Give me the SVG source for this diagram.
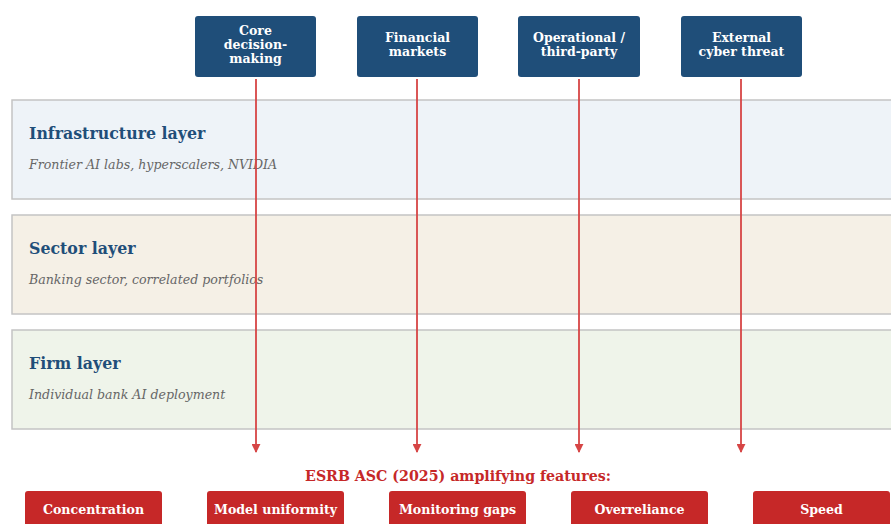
<svg xmlns="http://www.w3.org/2000/svg" width="891" height="524" viewBox="0 0 891 524">
<style>
.layer{stroke:#c4c4c4;stroke-width:1.5}
.lt{font-family:"DejaVu Serif",serif;font-weight:bold;font-size:15.8px;fill:#1f4e79}
.ls{font-family:"DejaVu Serif",serif;font-style:italic;font-size:12.6px;fill:#666}
.top{fill:#1f4e79}
.tt{font-family:"DejaVu Serif",serif;font-weight:bold;font-size:12.5px;fill:#fff;text-anchor:middle}
.feat{fill:#c62828}
.ft{font-family:"DejaVu Serif",serif;font-weight:bold;font-size:12.6px;fill:#fff;text-anchor:middle}
.conn{stroke:#d64545;stroke-width:1.8;fill:none;marker-end:url(#ah)}
</style>
<defs>
<marker id="ah" viewBox="0 0 10 10" refX="9" refY="5" markerWidth="5" markerHeight="5" orient="auto" markerUnits="strokeWidth">
<path d="M0,0 L10,5 L0,10 z" fill="#d64545"/>
</marker>
</defs>
<rect width="891" height="524" fill="#fff"/>
<g id="infrastructure">
<rect class="layer" x="12" y="100" width="890" height="99" fill="#eef3f8"/>
<text class="lt" x="29" y="139">Infrastructure layer</text>
<text class="ls" x="29" y="169">Frontier AI labs, hyperscalers, NVIDIA</text>
</g>
<g id="sector">
<rect class="layer" x="12" y="215" width="890" height="99" fill="#f5f0e6"/>
<text class="lt" x="29" y="254">Sector layer</text>
<text class="ls" x="29" y="284">Banking sector, correlated portfolios</text>
</g>
<g id="firm">
<rect class="layer" x="12" y="330" width="890" height="99" fill="#eff4ea"/>
<text class="lt" x="29" y="369">Firm layer</text>
<text class="ls" x="29" y="399">Individual bank AI deployment</text>
</g>
<g id="core">
<rect class="top" x="195" y="16" width="121" height="61" rx="3"/>
<text class="tt" x="255.5" y="35">Core</text>
<text class="tt" x="255.5" y="49">decision-</text>
<text class="tt" x="255.5" y="63">making</text>
</g>
<g id="financial">
<rect class="top" x="357" y="16" width="121" height="61" rx="3"/>
<text class="tt" x="417.5" y="42">Financial</text>
<text class="tt" x="417.5" y="56">markets</text>
</g>
<g id="operational">
<rect class="top" x="518" y="16" width="122" height="61" rx="3"/>
<text class="tt" x="579" y="42">Operational /</text>
<text class="tt" x="579" y="56">third-party</text>
</g>
<g id="external">
<rect class="top" x="681" y="16" width="121" height="61" rx="3"/>
<text class="tt" x="741.5" y="42">External</text>
<text class="tt" x="741.5" y="56">cyber threat</text>
</g>
<g id="connectors">
<line class="conn" x1="256" y1="79" x2="256" y2="452"/>
<line class="conn" x1="417" y1="79" x2="417" y2="452"/>
<line class="conn" x1="579" y1="79" x2="579" y2="452"/>
<line class="conn" x1="741" y1="79" x2="741" y2="452"/>
</g>
<g id="title">
<text x="458" y="481" font-family="DejaVu Serif,serif" font-weight="bold" font-size="14.2px" fill="#c62828" text-anchor="middle">ESRB ASC (2025) amplifying features:</text>
</g>
<g id="concentration">
<rect class="feat" x="25" y="491" width="137" height="40" rx="3"/>
<text class="ft" x="93.5" y="514">Concentration</text>
</g>
<g id="uniformity">
<rect class="feat" x="207" y="491" width="137" height="40" rx="3"/>
<text class="ft" x="275.5" y="514">Model uniformity</text>
</g>
<g id="monitoring">
<rect class="feat" x="389" y="491" width="137" height="40" rx="3"/>
<text class="ft" x="457.5" y="514">Monitoring gaps</text>
</g>
<g id="overreliance">
<rect class="feat" x="571" y="491" width="137" height="40" rx="3"/>
<text class="ft" x="639.5" y="514">Overreliance</text>
</g>
<g id="speed">
<rect class="feat" x="753" y="491" width="137" height="40" rx="3"/>
<text class="ft" x="821.5" y="514">Speed</text>
</g>
</svg>
